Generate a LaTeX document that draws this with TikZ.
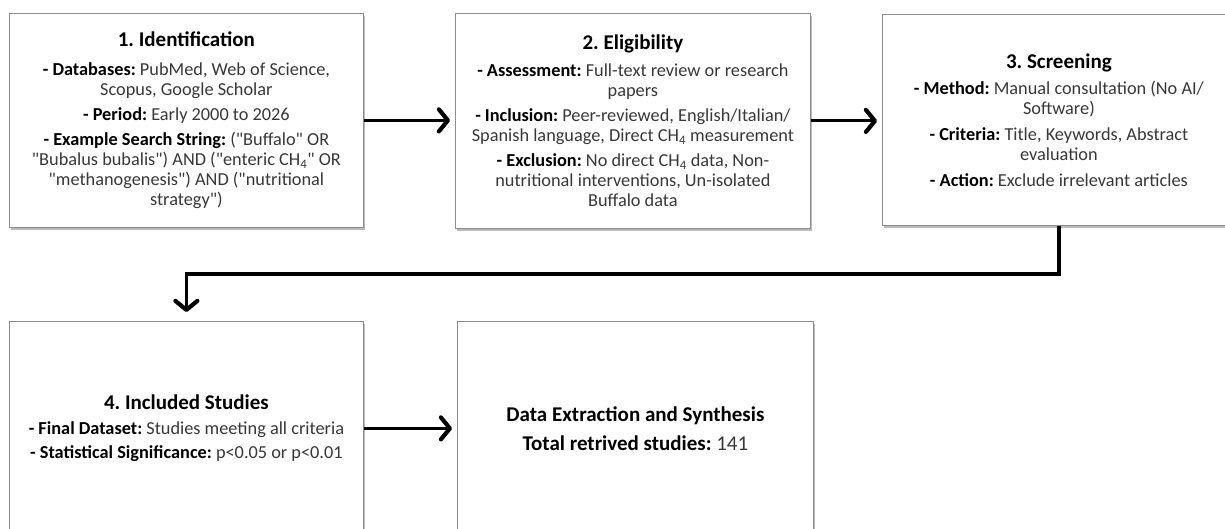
\documentclass[tikz,border=0pt]{standalone}
\usepackage{fontspec}
\setmainfont{Carlito}[Ligatures=TeXOff]
\usetikzlibrary{arrows.meta,shadows,calc}
\definecolor{bodygray}{HTML}{383838}
\definecolor{edgegray}{HTML}{8C8C8C}
\newcommand\boxtitle[1]{{\color{black}\bfseries\fontsize{21}{23}\selectfont #1}}
\newcommand\itemlabel[1]{{\color{black}\bfseries #1}}
\frenchspacing
\begin{document}
\begin{tikzpicture}[x=1pt,y=-1pt,
  box/.style={draw=edgegray, line width=0.8pt, fill=white, rectangle, anchor=north west,
    inner sep=0pt, align=center, text=bodygray, font=\fontsize{18.3}{20}\selectfont,
    drop shadow={shadow xshift=2pt,shadow yshift=-2.5pt,opacity=0.45,fill=black!60}},
  conn/.style={line width=3.2pt, -{Straight Barb[length=9pt,width=22pt,line width'=4.2pt,round]}, shorten >=5pt},
]
\useasboundingbox (0,0) rectangle (1225,529);
\clip (0,0) rectangle (1225,529);
\fill[white] (0,0) rectangle (1225,529);

\node[box, minimum width=354pt, minimum height=214pt] (b1) at (9,13) {%
\boxtitle{1. Identification}\\[9pt]
\itemlabel{- Databases:} PubMed, Web of Science,\\
Scopus, Google Scholar\\[5pt]
\itemlabel{- Period:} Early 2000 to 2026\\[5pt]
\itemlabel{- Example Search String:} ("Buffalo" OR\\
"Bubalus bubalis") AND ("enteric CH\textsubscript{4}" OR\\
"methanogenesis") AND ("nutritional\\
strategy")};

\node[box, minimum width=355pt, minimum height=215pt] (b2) at (455,13) {%
\boxtitle{2. Eligibility}\\[7pt]
\itemlabel{- Assessment:} Full-text review or research\\
papers\\[5pt]
\itemlabel{- Inclusion:} Peer-reviewed, English/Italian/\\
Spanish language, Direct CH\textsubscript{4} measurement\\[5pt]
\itemlabel{- Exclusion:} No direct CH\textsubscript{4} data, Non-\\
nutritional interventions, Un-isolated\\
Buffalo data};

\node[box, minimum width=353pt, minimum height=211pt] (b3) at (882,14) {%
\boxtitle{3. Screening}\\[6pt]
\itemlabel{- Method:} Manual consultation (No AI/\\
Software)\\[6pt]
\itemlabel{- Criteria:} Title, Keywords, Abstract\\
evaluation\\[6pt]
\itemlabel{- Action:} Exclude irrelevant articles};

\node[box, minimum width=354pt, minimum height=214pt] (b4) at (9,321) {%
\boxtitle{4. Included Studies}\\[5pt]
\itemlabel{- Final Dataset:} Studies meeting all criteria\\[4pt]
\itemlabel{- Statistical Significance:} p<0.05 or p<0.01};

\node[box, minimum width=356pt, minimum height=214pt,
  font=\fontsize{21}{23}\selectfont] (b5) at (457,321) {%
\itemlabel{Data Extraction and Synthesis}\\[6pt]
\itemlabel{Total retrived studies:} 141};

\draw[conn] (b1.east) -- (b1.east -| b2.west);
\draw[conn] (b2.east) -- (b2.east -| b3.west);
\draw[conn, shorten >=9pt] (b3.south) |- ([yshift=47pt]b4.north) -- (b4.north);
\draw[conn] (b4.east) -- (b4.east -| b5.west);
\end{tikzpicture}
\end{document}
